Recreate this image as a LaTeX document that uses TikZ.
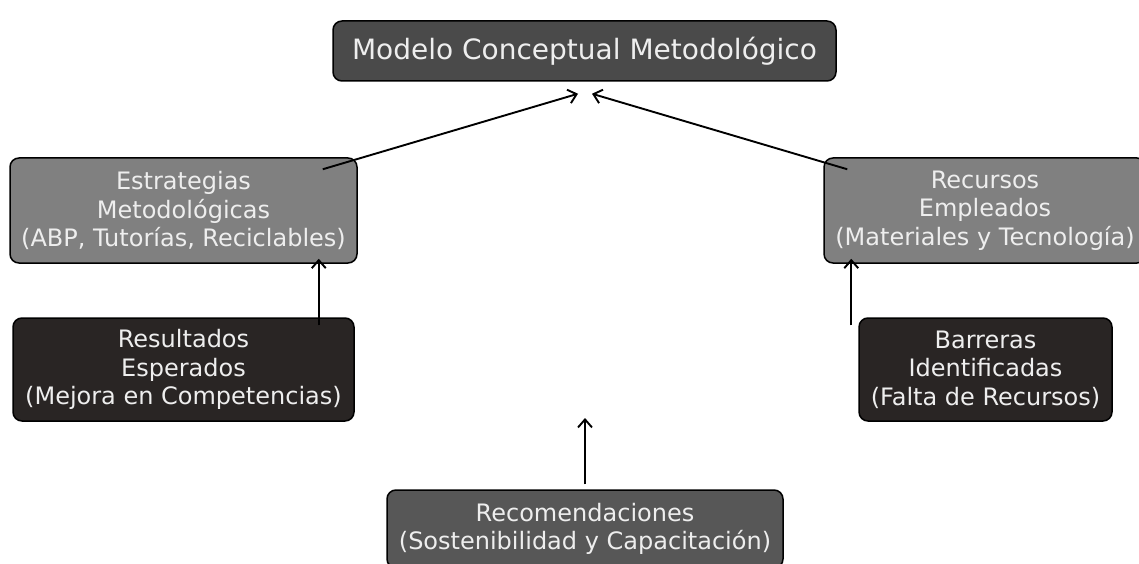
\documentclass[tikz,border=0pt]{standalone}
\usepackage{fontspec}
\setmainfont{DejaVu Sans}
\usetikzlibrary{arrows.meta,calc}
\definecolor{topfill}{HTML}{4A4A4A}
\definecolor{midfill}{HTML}{808080}
\definecolor{darkfill}{HTML}{292524}
\definecolor{recofill}{HTML}{575757}
\definecolor{txt}{HTML}{EEEEEE}
\begin{document}
\begin{tikzpicture}[x=1pt,y=-1pt,
  box/.style={draw=black, line width=1.5pt, rounded corners=9pt, align=center, text=txt, inner sep=0pt, font=\fontsize{24}{28.5}\selectfont},
  conn/.style={line width=1.9pt, -{Straight Barb[length=8pt,width=14pt]}}]
\useasboundingbox (0,0) rectangle (1139,564);
\fill[white] (0,0) rectangle (1139,564);
\node[box, fill=topfill, minimum width=503pt, minimum height=60pt, font=\fontsize{28}{32}\selectfont] (top) at (584.5,51) {Modelo Conceptual Metodológico};
\node[box, fill=midfill, minimum width=347pt, minimum height=105pt] (estr) at (183.5,210.5) {Estrategias\\Metodológicas\\(ABP, Tutorías, Reciclables)};
\node[box, fill=midfill, minimum width=322pt, minimum height=105pt] (recu) at (985,210.5) {Recursos\\Empleados\\(Materiales y Tecnología)};
\node[box, fill=darkfill, minimum width=341pt, minimum height=103pt] (resu) at (183.5,369.5) {Resultados\\Esperados\\(Mejora en Competencias)};
\node[box, fill=darkfill, minimum width=253pt, minimum height=103pt] (barr) at (985.5,369.5) {Barreras\\Identificadas\\(Falta de Recursos)};
\node[box, fill=recofill, minimum width=396pt, minimum height=78pt] (reco) at (585,529) {Recomendaciones\\(Sostenibilidad y Capacitación)};
\coordinate (recoTip) at (585,418);
\draw[conn] ($(estr.north east)+(-35,12)$) -- ($(top.south)+(-6.5,12)$);
\draw[conn] ($(recu.north west)+(24,12)$) -- ($(top.south)+(7.5,12)$);
\draw[conn] ($(resu.north east)+(-36,8)$) -- ($(estr.south east)+(-39,-5)$);
\draw[conn] ($(barr.north west)+(-7,8)$) -- ($(recu.south west)+(28,-5)$);
\draw[conn] ($(reco.north)+(0,-5)$) -- (recoTip);
\end{tikzpicture}
\end{document}
